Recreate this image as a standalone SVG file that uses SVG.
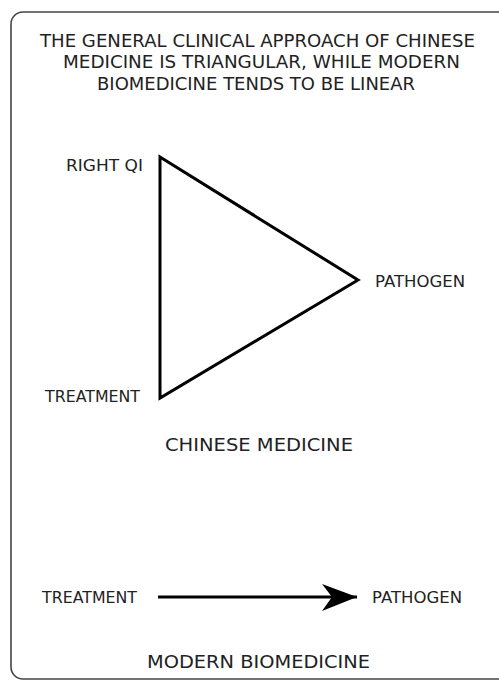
<svg xmlns="http://www.w3.org/2000/svg" width="499" height="681" viewBox="0 0 499 681">
<style>
text{font-family:"DejaVu Sans","Liberation Sans",sans-serif;fill:#222}
.t{font-size:18px}
.l{font-size:15.5px}
.edge{fill:none;stroke:#000;stroke-width:3;stroke-linejoin:miter}
</style>
<defs>
<marker id="head" markerUnits="userSpaceOnUse" viewBox="0 0 36 28" refX="35" refY="14" markerWidth="36" markerHeight="28" orient="auto">
<path d="M35 14 L0 1 L10 14 L0 28 Z" fill="#000"/>
</marker>
</defs>
<rect x="11" y="12" width="540" height="667" rx="12" ry="12" fill="#fff" stroke="#444" stroke-width="1.6"/>
<g id="title">
<text class="t" x="40" y="46.5" textLength="435" lengthAdjust="spacingAndGlyphs">THE GENERAL CLINICAL APPROACH OF CHINESE</text>
<text class="t" x="63" y="68" textLength="397" lengthAdjust="spacingAndGlyphs">MEDICINE IS TRIANGULAR, WHILE MODERN</text>
<text class="t" x="97" y="90" textLength="318" lengthAdjust="spacingAndGlyphs">BIOMEDICINE TENDS TO BE LINEAR</text>
</g>
<g id="connectors">
<path class="edge" d="M160 157 L358 280 L160 398 Z"/>
<line x1="158" y1="597" x2="357" y2="597" stroke="#000" stroke-width="3" marker-end="url(#head)"/>
</g>
<g id="right-qi"><text class="l" x="66" y="171" textLength="77" lengthAdjust="spacingAndGlyphs">RIGHT QI</text></g>
<g id="pathogen-tcm"><text class="l" x="375" y="287" textLength="90" lengthAdjust="spacingAndGlyphs">PATHOGEN</text></g>
<g id="treatment-tcm"><text class="l" x="45" y="402" textLength="95" lengthAdjust="spacingAndGlyphs">TREATMENT</text></g>
<g id="chinese-medicine"><text class="t" x="165" y="451" textLength="188" lengthAdjust="spacingAndGlyphs">CHINESE MEDICINE</text></g>
<g id="treatment-bio"><text class="l" x="42" y="603" textLength="95" lengthAdjust="spacingAndGlyphs">TREATMENT</text></g>
<g id="pathogen-bio"><text class="l" x="372" y="603" textLength="90" lengthAdjust="spacingAndGlyphs">PATHOGEN</text></g>
<g id="modern-biomedicine"><text class="t" x="147" y="668" textLength="223" lengthAdjust="spacingAndGlyphs">MODERN BIOMEDICINE</text></g>
</svg>
